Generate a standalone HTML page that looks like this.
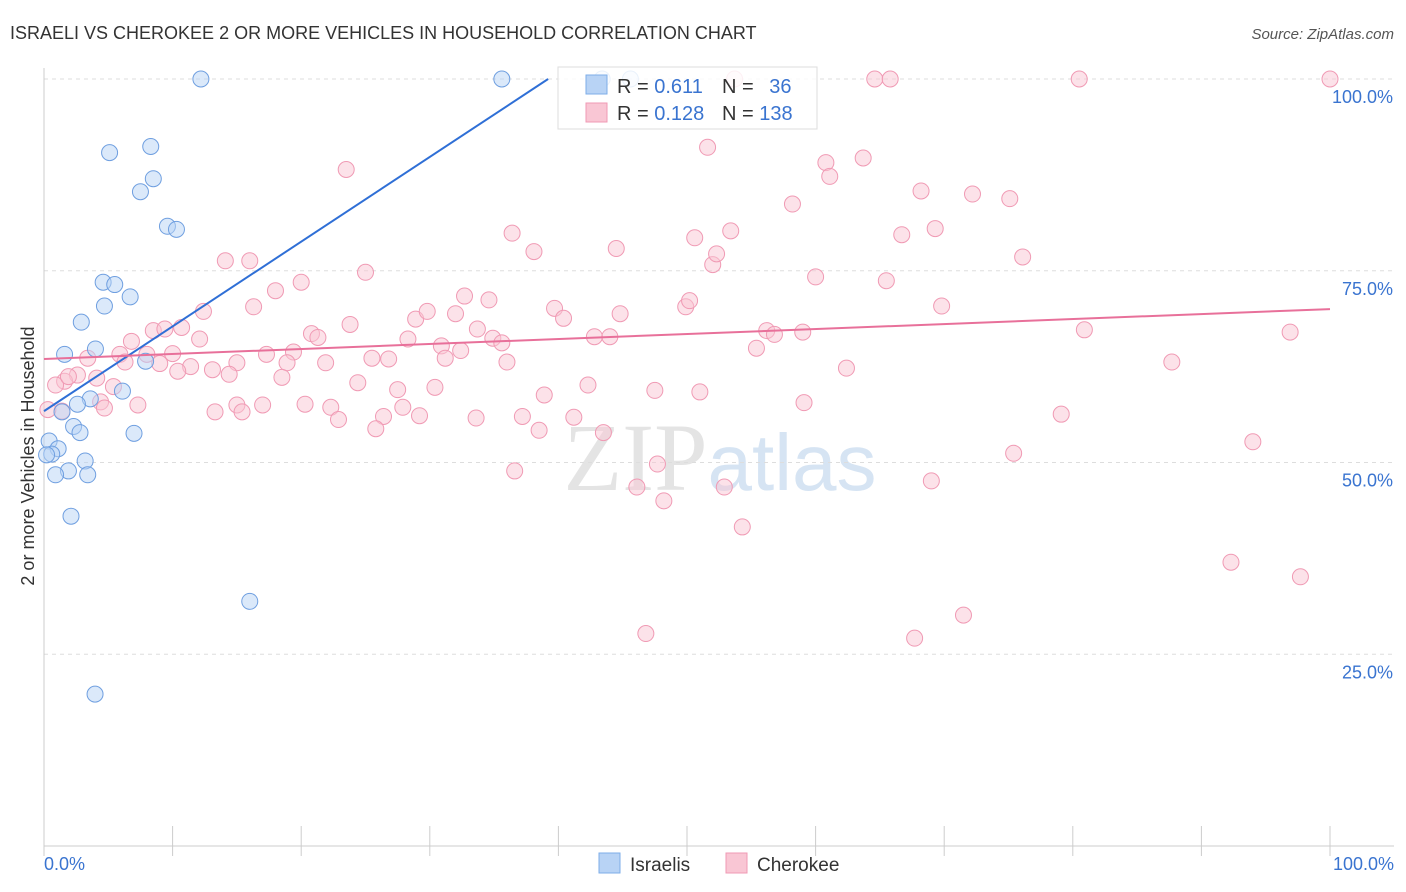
<!DOCTYPE html>
<html><head><meta charset="utf-8"><style>
body{margin:0;background:#fff;font-family:"Liberation Sans",sans-serif;}
svg{display:block}
</style></head><body>
<svg width="1406" height="892" xmlns="http://www.w3.org/2000/svg">
<text x="10" y="39" font-size="18" fill="#333">ISRAELI VS CHEROKEE 2 OR MORE VEHICLES IN HOUSEHOLD CORRELATION CHART</text>
<text x="1394" y="39" font-size="15" fill="#555" font-style="italic" text-anchor="end">Source: ZipAtlas.com</text>
<text x="720" y="490" font-size="96" fill="#e4e4e4" text-anchor="middle" font-family="Liberation Serif,serif">ZIP<tspan fill="#d6e4f3" font-family="Liberation Sans,sans-serif" font-size="80">atlas</tspan></text>
<g id="grid"></g><g id="axes"></g><g id="pts"></g><g id="lines"></g>
<text transform="translate(34,456) rotate(-90)" font-size="18" fill="#333" text-anchor="middle">2 or more Vehicles in Household</text>
<g>
<rect x="558" y="67" width="259" height="62" fill="#fff" fill-opacity="0.85" stroke="#ddd"/>
<rect x="586" y="75" width="21" height="19" fill="#b8d3f5" stroke="#7eaee8"/>
<rect x="586" y="103" width="21" height="19" fill="#f9c6d4" stroke="#f09ab4"/>
<text x="617" y="93" font-size="20" fill="#333">R = <tspan fill="#3a74d0">0.611</tspan></text>
<text x="722" y="93" font-size="20" fill="#333">N = <tspan fill="#3a74d0" dx="10">36</tspan></text>
<text x="617" y="120" font-size="20" fill="#333">R = <tspan fill="#3a74d0">0.128</tspan></text>
<text x="722" y="120" font-size="20" fill="#333">N = <tspan fill="#3a74d0">138</tspan></text>
</g>
<g>
<rect x="599" y="853" width="21" height="20" fill="#b8d3f5" stroke="#7eaee8"/>
<text x="630" y="871" font-size="19" fill="#333">Israelis</text>
<rect x="726" y="853" width="21" height="20" fill="#f9c6d4" stroke="#f09ab4"/>
<text x="757" y="871" font-size="19" fill="#333">Cherokee</text>
</g>
</svg>
<script>
const yTicks=[25,50,75,100];
const yTickLabels=["25.0%","50.0%","75.0%","100.0%"];
const israeliX=[12.2,35.6,45.6,5.1,8.3,7.5,8.5,9.6,10.3,4.6,5.5,4.7,6.7,2.9,4.0,1.6,7.9,6.1,3.6,2.6,1.4,2.3,2.8,7.0,0.4,1.1,0.6,0.2,3.2,1.9,0.9,3.4,2.1,16.0,3.970,43.4];
const israeliY=[100,100,100,90.4,91.2,85.3,87.0,80.8,80.4,73.5,73.2,70.4,71.6,68.3,64.8,64.1,63.2,59.3,58.3,57.6,56.6,54.7,53.9,53.8,52.8,51.8,51.1,51.0,50.2,48.9,48.4,48.4,43.0,31.9,19.8,100];
const cherX=[53.7,64.6,65.8,80.5,100,51.6,23.5,60.8,63.7,61.1,68.2,72.2,75.1,58.2,36.4,38.1,44.5,50.6,53.4,66.7,69.3,14.1,16.0,25.0,52.0,52.3,60.0,65.5,76.1,18.0,20.0,32.7,34.6,16.3,12.4,39.7,40.4,44.8,49.9,50.2,69.8,28.9,29.8,32.0,80.9,96.9,8.5,9.4,10.7,6.8,12.1,20.8,21.3,23.8,28.3,33.7,34.9,35.6,42.8,44.0,56.2,56.8,59.0,55.4,5.9,8.0,10.0,17.3,19.4,25.5,26.8,30.9,31.2,32.4,36.0,6.3,3.4,9.0,11.4,10.4,13.1,18.9,21.9,15.0,62.4,87.7,2.6,1.6,4.1,0.9,1.9,5.4,14.4,18.5,24.4,27.5,38.9,42.3,4.4,7.3,15.0,17.0,20.3,22.3,27.9,30.4,47.5,51.0,59.1,13.3,15.4,29.2,26.4,4.7,22.9,38.5,41.2,43.5,33.6,37.2,1.4,0.3,25.8,79.1,94.0,75.4,47.7,36.6,46.1,52.9,69.0,48.2,54.3,92.3,97.7,71.5,46.8,67.7];
const cherY=[100,100,100,100,100,91.1,88.2,89.1,89.7,87.3,85.4,85.0,84.4,83.7,79.9,77.5,77.9,79.3,80.2,79.7,80.5,76.3,76.3,74.8,75.8,77.2,74.2,73.7,76.8,72.4,73.5,71.7,71.2,70.3,69.7,70.1,68.8,69.4,70.3,71.1,70.4,68.7,69.7,69.4,67.3,67.0,67.2,67.4,67.6,65.8,66.1,66.8,66.3,68.0,66.1,67.4,66.2,65.6,66.4,66.4,67.2,66.7,67.0,64.9,64.1,64.1,64.2,64.1,64.4,63.6,63.5,65.2,63.6,64.6,63.1,63.1,63.6,62.9,62.5,61.9,62.1,63.0,63.0,63.0,62.3,63.1,61.4,60.6,61.0,60.1,61.2,59.9,61.5,61.1,60.4,59.5,58.8,60.1,57.9,57.5,57.5,57.5,57.6,57.2,57.2,59.8,59.4,59.2,57.8,56.6,56.6,56.1,56.0,57.1,55.6,54.2,55.9,53.9,55.8,56.0,56.7,56.9,54.4,56.3,52.7,51.2,49.8,48.9,46.8,46.8,47.6,45.0,41.6,37.0,35.1,30.1,27.7,27.1];
const israeliLine=[0,56.7,39.2,100];
const cherLine=[0,63.5,100,70.0];
const X=v=>44+v*12.86, Y=v=>846-v*7.67;
const NS="http://www.w3.org/2000/svg";
function mk(t,a,p){const e=document.createElementNS(NS,t);for(const k in a)e.setAttribute(k,a[k]);p.appendChild(e);return e;}
const g=document.getElementById('grid'),ax=document.getElementById('axes'),pts=document.getElementById('pts'),ln=document.getElementById('lines');
yTicks.forEach((t,i)=>{
 const l=mk('line',{x1:44,x2:1394,y1:Y(t),y2:Y(t),stroke:'#ddd','stroke-dasharray':'4,4'},g);
 
 
 const tx=mk('text',{x:1393,y:Y(t)+24,'font-size':18,fill:'#3a74d0','text-anchor':'end'},ax);
 tx.textContent=yTickLabels[i];
 
 
});
const a1=mk('line',{x1:44,x2:44,y1:68,y2:846,stroke:'#ccc'},ax);


const a2=mk('line',{x1:44,x2:1394,y1:846,y2:846,stroke:'#ccc'},ax);


for(let i=0;i<=10;i++){const t=mk('line',{x1:X(i*10),x2:X(i*10),y1:826,y2:856,stroke:'#ccc'},ax);
 
 }
[["0.0%",44,'start'],["100.0%",1394,'end']].forEach(d=>{const t=mk('text',{x:d[1],y:870,'font-size':18,fill:'#3a74d0','text-anchor':d[2]},ax);t.textContent=d[0];
 
 });
cherX.forEach((v,i)=>{const c=mk('circle',{cx:X(v),cy:Y(cherY[i]),r:8,fill:'#f9c6d4','fill-opacity':0.5,stroke:'#f09ab4'},pts);
 
 });
israeliX.forEach((v,i)=>{const c=mk('circle',{cx:X(v),cy:Y(israeliY[i]),r:8,fill:'#b8d3f5','fill-opacity':0.5,stroke:'#6f9fe0'},pts);
 
 });
const l1=mk('line',{x1:X(israeliLine[0]),y1:Y(israeliLine[1]),x2:X(israeliLine[2]),y2:Y(israeliLine[3]),stroke:'#2f6fd6','stroke-width':2},ln);


const l2=mk('line',{x1:X(cherLine[0]),y1:Y(cherLine[1]),x2:X(cherLine[2]),y2:Y(cherLine[3]),stroke:'#e8709a','stroke-width':2},ln);


</script>
</body></html>
